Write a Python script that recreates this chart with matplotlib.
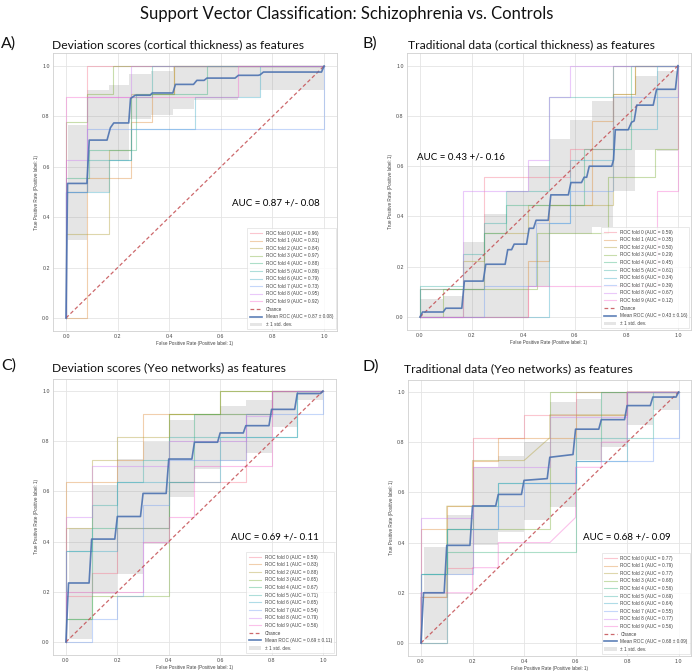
import numpy as np
import matplotlib
matplotlib.use("Agg")
import matplotlib.pyplot as plt
import seaborn as sns

# ---------------- data ----------------
fold_colors = sns.color_palette("husl", 10)

A_title = "Deviation scores (cortical thickness) as features"
B_title = "Traditional data (cortical thickness) as features"
C_title = "Deviation scores (Yeo networks) as features"
D_title = "Traditional data (Yeo networks) as features"

A_auc = [0.96, 0.81, 0.84, 0.97, 0.88, 0.89, 0.79, 0.73, 0.95, 0.92]
B_auc = [0.59, 0.35, 0.50, 0.29, 0.45, 0.61, 0.34, 0.39, 0.67, 0.12]
C_auc = [0.59, 0.83, 0.88, 0.65, 0.67, 0.71, 0.65, 0.54, 0.79, 0.56]
D_auc = [0.77, 0.79, 0.77, 0.68, 0.56, 0.69, 0.64, 0.55, 0.77, 0.56]

A_mean_auc, A_std_auc = 0.87, 0.08
B_mean_auc, B_std_auc = 0.43, 0.16
C_mean_auc, C_std_auc = 0.69, 0.11
D_mean_auc, D_std_auc = 0.68, 0.09

A_fpr = [[0, 0, 0.083, 0.083, 1],
         [0, 0.083, 0.083, 0.25, 0.25, 0.333, 0.333, 0.417, 0.417, 1],
         [0, 0, 0.167, 0.167, 0.25, 0.25, 0.417, 0.417, 1],
         [0, 0, 0.083, 0.083, 0.182, 0.182, 1],
         [0, 0, 0.091, 0.091, 0.273, 0.273, 0.545, 0.545, 1],
         [0, 0, 0.083, 0.083, 0.25, 0.25, 0.333, 0.333, 1],
         [0, 0, 0.167, 0.167, 0.25, 0.25, 0.5, 0.5, 0.75, 0.75, 1],
         [0, 0, 0.083, 0.083, 1, 1],
         [0, 0, 0.083, 0.083, 0.25, 0.25, 1],
         [0, 0, 0.667, 0.667, 1]]
A_tpr = [[0, 0.5, 0.5, 1, 1],
         [0, 0, 0.556, 0.556, 0.778, 0.778, 0.889, 0.889, 1, 1],
         [0, 0.333, 0.333, 0.667, 0.667, 0.889, 0.889, 1, 1],
         [0, 0.778, 0.778, 0.889, 0.889, 1, 1],
         [0, 0.556, 0.556, 0.667, 0.667, 0.889, 0.889, 1, 1],
         [0, 0.5, 0.5, 0.625, 0.625, 0.875, 0.875, 1, 1],
         [0, 0.5, 0.5, 0.625, 0.625, 0.75, 0.75, 0.875, 0.875, 1, 1],
         [0, 0.5, 0.5, 0.75, 0.75, 1],
         [0, 0.625, 0.625, 0.875, 0.875, 1, 1],
         [0, 0.875, 0.875, 1, 1]]

B_fpr = [[0, 0, 0.25, 0.25, 0.583, 0.583, 0.75, 0.75, 1],
         [0, 0.417, 0.417, 0.5, 0.5, 0.667, 0.667, 0.75, 0.75, 0.833, 0.833, 1],
         [0, 0.167, 0.167, 0.25, 0.25, 0.417, 0.417, 0.75, 0.75, 0.833, 0.833, 1],
         [0, 0.091, 0.091, 0.455, 0.455, 0.727, 0.727, 0.909, 0.909, 1, 1],
         [0, 0, 0.25, 0.25, 0.333, 0.333, 0.636, 0.636, 0.818, 0.818, 1],
         [0, 0, 0.167, 0.167, 0.25, 0.25, 0.333, 0.333, 0.5, 0.5, 0.75, 0.75, 1],
         [0, 0.5, 0.5, 0.583, 0.583, 0.75, 0.75, 0.917, 0.917, 1],
         [0, 0.25, 0.25, 0.45, 0.45, 0.583, 0.583, 0.75, 0.75, 1, 1],
         [0, 0.167, 0.167, 0.417, 0.417, 0.5, 0.5, 0.583, 0.583, 1],
         [0, 0.417, 0.417, 0.917, 0.917, 1, 1]]
B_tpr = [[0, 0.111, 0.111, 0.556, 0.556, 0.667, 0.667, 1, 1],
         [0, 0, 0.222, 0.222, 0.444, 0.444, 0.778, 0.778, 0.889, 0.889, 1, 1],
         [0, 0, 0.222, 0.222, 0.333, 0.333, 0.444, 0.444, 0.889, 0.889, 1, 1],
         [0, 0, 0.111, 0.111, 0.333, 0.333, 0.556, 0.556, 0.667, 0.667, 1],
         [0, 0.111, 0.111, 0.333, 0.333, 0.444, 0.444, 0.667, 0.667, 1, 1],
         [0, 0.125, 0.125, 0.25, 0.25, 0.375, 0.375, 0.5, 0.5, 0.875, 0.875, 1, 1],
         [0, 0, 0.375, 0.375, 0.625, 0.625, 0.75, 0.75, 1, 1],
         [0, 0, 0.125, 0.125, 0.375, 0.375, 0.5, 0.5, 0.875, 0.875, 1],
         [0, 0, 0.5, 0.5, 0.625, 0.625, 0.875, 0.875, 1, 1],
         [0, 0, 0.125, 0.125, 0.5, 0.5, 1]]

C_fpr = [[0, 0, 0.1, 0.1, 0.2, 0.2, 0.4, 0.4, 0.7, 0.7, 0.8, 0.8, 1],
         [0, 0, 0.2, 0.2, 0.3, 0.3, 0.8, 0.8, 1],
         [0, 0, 0.1, 0.1, 0.2, 0.2, 0.4, 0.4, 0.6, 0.6, 1],
         [0, 0, 0.1, 0.1, 0.4, 0.4, 0.6, 0.6, 1],
         [0, 0, 0.1, 0.1, 0.4, 0.4, 0.5, 0.5, 0.8, 0.8, 1],
         [0, 0, 0.1, 0.1, 0.2, 0.2, 0.3, 0.3, 0.4, 0.4, 0.9, 0.9, 1],
         [0, 0, 0.2, 0.2, 0.6, 0.6, 0.9, 0.9, 1],
         [0, 0.1, 0.1, 0.2, 0.2, 0.3, 0.3, 0.4, 0.4, 0.7, 0.7, 1, 1],
         [0, 0, 0.1, 0.1, 0.4, 0.4, 0.7, 0.7, 0.8, 0.8, 1],
         [0, 0, 0.3, 0.3, 0.4, 0.4, 0.5, 0.5, 0.8, 0.8, 1]]
C_tpr = [[0, 0.182, 0.182, 0.273, 0.273, 0.455, 0.455, 0.636, 0.636, 0.909, 0.909, 1, 1],
         [0, 0.636, 0.636, 0.727, 0.727, 0.909, 0.909, 1, 1],
         [0, 0.455, 0.455, 0.727, 0.727, 0.818, 0.818, 0.909, 0.909, 1, 1],
         [0, 0.091, 0.091, 0.182, 0.182, 0.909, 0.909, 1, 1],
         [0, 0.091, 0.091, 0.455, 0.455, 0.636, 0.636, 0.909, 0.909, 1, 1],
         [0, 0.364, 0.364, 0.545, 0.545, 0.636, 0.636, 0.727, 0.727, 0.818, 0.818, 1, 1],
         [0, 0.364, 0.364, 0.636, 0.636, 0.818, 0.818, 1, 1],
         [0, 0, 0.091, 0.091, 0.182, 0.182, 0.545, 0.545, 0.727, 0.727, 0.909, 0.909, 1],
         [0, 0.5, 0.5, 0.7, 0.7, 0.8, 0.8, 0.9, 0.9, 1, 1],
         [0, 0.2, 0.2, 0.4, 0.4, 0.5, 0.5, 0.7, 0.7, 1, 1]]

D_fpr = [[0, 0, 0.1, 0.1, 0.2, 0.2, 0.4, 0.4, 0.6, 0.6, 1],
         [0, 0, 0.1, 0.1, 0.2, 0.2, 0.3, 0.3, 0.6, 0.6, 0.8, 0.8, 1],
         [0, 0, 0.1, 0.1, 0.2, 0.2, 0.4, 0.5, 0.5, 0.8, 0.8, 1],
         [0, 0.1, 0.1, 0.5, 0.5, 1],
         [0, 0, 0.1, 0.1, 0.6, 0.6, 0.7, 0.7, 1],
         [0, 0, 0.1, 0.1, 0.2, 0.2, 0.3, 0.3, 0.6, 0.6, 0.9, 0.9, 1],
         [0, 0, 0.1, 0.1, 0.3, 0.3, 0.6, 0.6, 0.8, 0.8, 1],
         [0, 0.1, 0.1, 0.2, 0.2, 0.3, 0.3, 0.4, 0.4, 0.6, 0.6, 0.9, 0.9, 1, 1],
         [0, 0, 0.2, 0.2, 0.5, 0.5, 0.8, 0.8, 1],
         [0, 0, 0.2, 0.2, 0.3, 0.3, 0.5, 0.6, 0.6, 0.7, 0.7, 0.8, 0.8, 1]]
D_tpr = [[0, 0.182, 0.182, 0.3, 0.3, 0.818, 0.818, 0.909, 0.909, 1, 1],
         [0, 0.455, 0.455, 0.545, 0.545, 0.727, 0.727, 0.818, 0.818, 0.909, 0.909, 1, 1],
         [0, 0.182, 0.182, 0.545, 0.545, 0.727, 0.727, 0.818, 0.909, 0.909, 1, 1],
         [0, 0, 0.455, 0.455, 1, 1],
         [0, 0.273, 0.273, 0.364, 0.364, 0.727, 0.727, 1, 1],
         [0, 0.273, 0.273, 0.455, 0.455, 0.545, 0.545, 0.636, 0.636, 0.818, 0.818, 1, 1],
         [0, 0.273, 0.273, 0.455, 0.455, 0.636, 0.636, 0.727, 0.727, 1, 1],
         [0, 0, 0.273, 0.273, 0.455, 0.455, 0.545, 0.545, 0.636, 0.636, 0.727, 0.727, 0.818, 0.818, 1],
         [0, 0.5, 0.5, 0.7, 0.7, 0.9, 0.9, 1, 1],
         [0, 0.2, 0.2, 0.3, 0.3, 0.4, 0.4, 0.5, 0.7, 0.7, 0.8, 0.8, 1, 1]]

# mean ROC curves
A_mean_fpr = [0, 0.006, 0.081, 0.09, 0.159, 0.172, 0.185, 0.243, 0.25, 0.268, 0.326, 0.334, 0.414, 0.424,
              0.494, 0.507, 0.535, 0.546, 0.655, 0.668, 0.745, 0.752, 0.765, 0.99, 1.0]
A_mean_tpr = [0, 0.534, 0.534, 0.706, 0.706, 0.755, 0.774, 0.774, 0.871, 0.884, 0.884, 0.893, 0.893, 0.927,
              0.927, 0.943, 0.943, 0.952, 0.952, 0.963, 0.963, 0.965, 0.976, 0.976, 1.0]
B_mean_fpr = [0, 0.01, 0.09, 0.10, 0.162, 0.172, 0.245, 0.255, 0.33, 0.34, 0.355, 0.365, 0.413, 0.423, 0.44,
              0.45, 0.497, 0.507, 0.575, 0.585, 0.626, 0.636, 0.646, 0.656, 0.743, 0.75, 0.757, 0.807, 0.82,
              0.83, 0.84, 0.904, 0.917, 0.99, 1.0]
B_mean_tpr = [0, 0.02, 0.02, 0.035, 0.035, 0.143, 0.143, 0.21, 0.21, 0.268, 0.268, 0.29, 0.29, 0.353, 0.353,
              0.385, 0.385, 0.486, 0.486, 0.535, 0.535, 0.556, 0.556, 0.60, 0.60, 0.625, 0.745, 0.745, 0.775,
              0.78, 0.843, 0.843, 0.906, 0.906, 1.0]
C_mean_fpr = [0, 0.01, 0.09, 0.10, 0.19, 0.20, 0.29, 0.30, 0.39, 0.40, 0.49, 0.50, 0.59, 0.60, 0.69, 0.70,
              0.79, 0.80, 0.89, 0.90, 0.99, 1.0]
C_mean_tpr = [0, 0.235, 0.235, 0.41, 0.41, 0.50, 0.50, 0.592, 0.592, 0.729, 0.729, 0.796, 0.796, 0.833,
              0.833, 0.862, 0.862, 0.927, 0.927, 0.99, 0.99, 1.0]
D_mean_fpr = [0, 0.01, 0.09, 0.10, 0.19, 0.20, 0.29, 0.30, 0.39, 0.40, 0.49, 0.50, 0.59, 0.60, 0.69, 0.70,
              0.79, 0.80, 0.89, 0.90, 0.99, 1.0]
D_mean_tpr = [0, 0.20, 0.20, 0.389, 0.389, 0.546, 0.546, 0.592, 0.592, 0.648, 0.655, 0.74, 0.751, 0.852,
              0.852, 0.89, 0.89, 0.946, 0.946, 0.98, 0.98, 1.0]

# +/- 1 std band (segment start x, upper, lower)
A_band_x = [0.006, 0.081, 0.165, 0.245, 0.33, 0.415, 0.495, 0.665, 0.75, 1.0]
A_band_hi = [0.765, 0.904, 0.926, 0.97, 0.98, 1.0, 1.0, 1.0, 1.0]
A_band_lo = [0.31, 0.50, 0.623, 0.79, 0.807, 0.83, 0.864, 0.877, 0.904]
B_band_x = [0.0, 0.09, 0.167, 0.25, 0.336, 0.42, 0.504, 0.58, 0.665, 0.75, 0.833, 0.917, 1.0]
B_band_hi = [0.07, 0.084, 0.30, 0.41, 0.50, 0.60, 0.71, 0.785, 0.86, 0.88, 0.96, 0.98]
B_band_lo = [0.0, 0.0, 0.0, 0.0, 0.0, 0.12, 0.33, 0.33, 0.36, 0.50, 0.665, 0.66]
C_band_x = [0.01, 0.1, 0.2, 0.3, 0.4, 0.5, 0.6, 0.7, 0.8, 0.9, 1.0]
C_band_hi = [0.456, 0.626, 0.73, 0.795, 0.885, 0.91, 0.94, 0.965, 1.0, 1.0]
C_band_lo = [0.01, 0.191, 0.27, 0.39, 0.576, 0.688, 0.72, 0.755, 0.858, 0.965]
D_band_x = [0.01, 0.1, 0.2, 0.3, 0.4, 0.5, 0.6, 0.7, 0.8, 0.9, 1.0]
D_band_hi = [0.383, 0.51, 0.702, 0.746, 0.80, 0.96, 0.974, 1.0, 1.0, 1.0]
D_band_lo = [0.01, 0.272, 0.39, 0.441, 0.49, 0.543, 0.728, 0.781, 0.868, 0.93]

ticks = [0.0, 0.2, 0.4, 0.6, 0.8, 1.0]
tick_labels = ["0.0", "0.2", "0.4", "0.6", "0.8", "1.0"]

# ---------------- layout ----------------
W, H = 693, 671
fig = plt.figure(figsize=(W / 100, H / 100), dpi=100)
fig.patch.set_facecolor("white")

TITLE_FONT = ["Lato", "DejaVu Sans"]
SMALL_FONT = ["Liberation Sans", "DejaVu Sans"]


def px_rect(l, t, r, b):
    return [l / W, 1 - b / H, (r - l) / W, (b - t) / H]


panels = [
    dict(rect=px_rect(53.1, 53.4, 337.0, 330.6), title=A_title, letter="A)", title_xy=(52, 45), letter_xy=(1, 44),
         fpr=A_fpr, tpr=A_tpr, auc=A_auc, mfpr=A_mean_fpr, mtpr=A_mean_tpr, mauc=A_mean_auc, sauc=A_std_auc,
         bx=A_band_x, bhi=A_band_hi, blo=A_band_lo, txt=(0.643, 0.456)),
    dict(rect=px_rect(407.1, 53.1, 690.9, 329.6), title=B_title, letter="B)", title_xy=(408, 45), letter_xy=(362, 44),
         fpr=B_fpr, tpr=B_tpr, auc=B_auc, mfpr=B_mean_fpr, mtpr=B_mean_tpr, mauc=B_mean_auc, sauc=B_std_auc,
         bx=B_band_x, bhi=B_band_hi, blo=B_band_lo, txt=(-0.01, 0.637)),
    dict(rect=px_rect(53.1, 378.5, 335.8, 654.5), title=C_title, letter="C)", title_xy=(52, 368), letter_xy=(1, 366),
         fpr=C_fpr, tpr=C_tpr, auc=C_auc, mfpr=C_mean_fpr, mtpr=C_mean_tpr, mauc=C_mean_auc, sauc=C_std_auc,
         bx=C_band_x, bhi=C_band_hi, blo=C_band_lo, txt=(0.642, 0.42)),
    dict(rect=px_rect(408.1, 379.5, 691.5, 655.5), title=D_title, letter="D)", title_xy=(404, 369), letter_xy=(362, 367),
         fpr=D_fpr, tpr=D_tpr, auc=D_auc, mfpr=D_mean_fpr, mtpr=D_mean_tpr, mauc=D_mean_auc, sauc=D_std_auc,
         bx=D_band_x, bhi=D_band_hi, blo=D_band_lo, txt=(0.628, 0.422)),
]

for p in panels:
    ax = fig.add_axes(p["rect"])
    ax.set_facecolor("white")
    for s in ax.spines.values():
        s.set_color("#d0d0d0")
        s.set_linewidth(0.6)
    ax.grid(True, color="#e4e4e4", linewidth=0.6)
    ax.set_axisbelow(True)

    for i in range(10):
        ax.plot(p["fpr"][i], p["tpr"][i], color=fold_colors[i], lw=0.8, alpha=0.4,
                label=f"ROC fold {i} (AUC = {p['auc'][i]:.2f})")
    ax.plot([0, 1], [0, 1], linestyle=(0, (3, 2)), lw=0.9, color="#c44e52", alpha=0.85, label="Chance")
    ax.plot(p["mfpr"], p["mtpr"], color="#4C72B0", lw=1.2, alpha=0.9,
            label=f"Mean ROC (AUC = {p['mauc']:.2f} \u00b1 {p['sauc']:.2f})")
    bx = p["bx"]
    hi = p["bhi"] + [p["bhi"][-1]]
    lo = p["blo"] + [p["blo"][-1]]
    ax.fill_between(bx, lo, hi, step="post", color="grey", alpha=0.2, lw=0, label="\u00b1 1 std. dev.")

    ax.set_xlim(-0.05, 1.05)
    ax.set_ylim(-0.05, 1.05)
    ax.set_xticks(ticks)
    ax.set_xticklabels(tick_labels)
    ax.set_yticks(ticks)
    ax.set_yticklabels(tick_labels)
    ax.tick_params(length=0, labelsize=3.8, labelcolor="#444444", pad=2.5)
    for lab in ax.get_xticklabels() + ax.get_yticklabels():
        lab.set_family(SMALL_FONT)
    ax.set_xlabel("False Positive Rate (Positive label: 1)", fontsize=3.3, color="#444444",
                  family=SMALL_FONT, labelpad=1.5)
    ax.set_ylabel("True Positive Rate (Positive label: 1)", fontsize=3.3, color="#444444",
                  family=SMALL_FONT, labelpad=2)

    leg = ax.legend(loc="lower right", prop={"family": SMALL_FONT, "size": 3.4},
                    frameon=True, borderaxespad=0.3, labelspacing=0.55, handlelength=2.6,
                    borderpad=0.5, fancybox=False)
    leg.get_frame().set_edgecolor("#d8d8d8")
    leg.get_frame().set_linewidth(0.5)
    for t in leg.get_texts():
        t.set_color("#444444")

    ax.text(p["txt"][0], p["txt"][1], f"AUC = {p['mauc']:.2f} +/- {p['sauc']:.2f}",
            fontsize=7, family=TITLE_FONT, va="center", ha="left", color="black")

    fig.text(p["title_xy"][0] / W, 1 - p["title_xy"][1] / H, p["title"], fontsize=8.7,
             family=TITLE_FONT, ha="left", va="center", color="#111111")
    fig.text(p["letter_xy"][0] / W, 1 - p["letter_xy"][1] / H, p["letter"], fontsize=11.5,
             family=TITLE_FONT, ha="left", va="center", color="#111111")

fig.text(0.5, 1 - 14 / H, "Support Vector Classification: Schizophrenia vs. Controls", fontsize=12,
         family=TITLE_FONT, ha="center", va="center", color="#111111")

fig.savefig("out.png", dpi=100, facecolor="white")
